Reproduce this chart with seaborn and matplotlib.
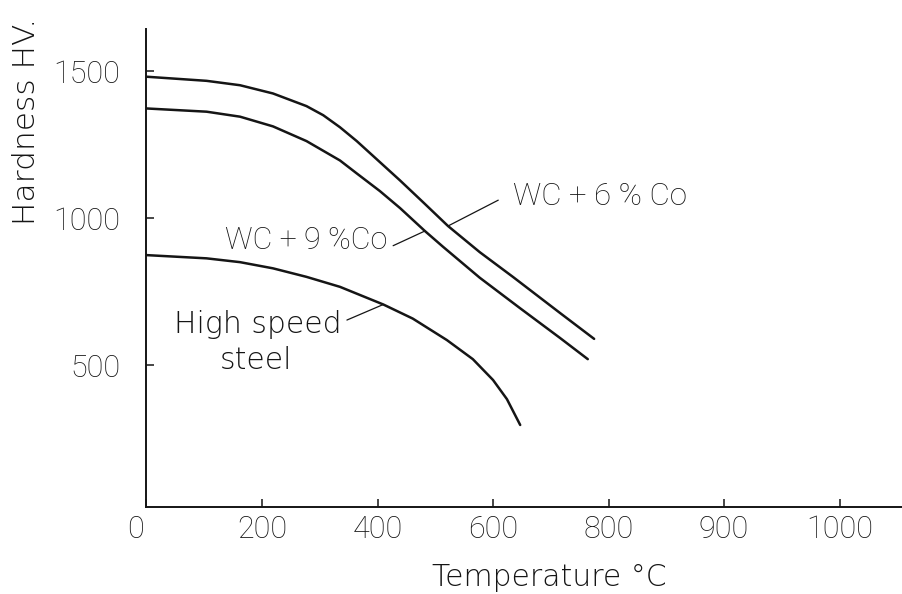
import matplotlib
matplotlib.use("Agg")
import matplotlib.pyplot as plt
from matplotlib.transforms import ScaledTranslation
import pandas as pd
import seaborn as sns

# Hardness (HV) against temperature (deg C)
temp_wc6 = [0, 104, 162, 219, 277, 306, 335, 364, 392, 439, 481, 522, 577, 635, 716, 775]
hv_wc6 = [1481, 1467, 1452, 1424, 1381, 1350, 1309, 1262, 1212, 1128, 1050, 973, 884, 799, 677, 589]

temp_wc9 = [0, 104, 162, 219, 277, 335, 364, 404, 439, 482, 513, 577, 647, 716, 764]
hv_wc9 = [1373, 1362, 1345, 1312, 1262, 1196, 1152, 1092, 1034, 956, 903, 797, 693, 592, 520]

temp_hss = [0, 104, 162, 219, 277, 335, 410, 461, 520, 565, 600, 624, 647]
hv_hss = [874, 863, 850, 829, 800, 766, 706, 658, 585, 520, 449, 384, 296]

series_names = ["WC + 6 % Co", "WC + 9 %Co", "High speed\nsteel"]

x_ticks = [0, 200, 400, 600, 800, 1000, 1200]
x_tick_labels = ["0", "200", "400", "600", "800", "900", "1000"]
y_ticks = [500, 1000, 1500]
y_tick_labels = ["500", "1000", "1500"]

sns.set_style("ticks")
plt.rcParams["font.family"] = ["Roboto", "DejaVu Sans"]
INK = "#151515"

df = pd.concat([
    pd.DataFrame({"temp": temp_wc6, "hv": hv_wc6, "alloy": series_names[0]}),
    pd.DataFrame({"temp": temp_wc9, "hv": hv_wc9, "alloy": series_names[1]}),
    pd.DataFrame({"temp": temp_hss, "hv": hv_hss, "alloy": series_names[2]}),
])

fig = plt.figure(figsize=(9.02, 5.94), dpi=100)
ax = fig.add_axes([0.1624, 0.147, 0.8376, 0.804])

sns.lineplot(data=df, x="temp", y="hv", hue="alloy",
             palette={n: INK for n in series_names}, sort=False,
             estimator=None, legend=False, linewidth=1.8, ax=ax)
for line in ax.lines:
    line.set_solid_joinstyle("round")
    line.set_solid_capstyle("round")

ax.set_xlim(0, 1308)
ax.set_ylim(18, 1643)
for side in ("top", "right"):
    ax.spines[side].set_visible(False)
for side in ("left", "bottom"):
    ax.spines[side].set_linewidth(1.4)
    ax.spines[side].set_color(INK)

ax.set_xticks(x_ticks)
ax.set_xticklabels(x_tick_labels)
ax.set_yticks(y_ticks)
ax.set_yticklabels(y_tick_labels)
ax.tick_params(axis="both", direction="in", length=6, width=1.1,
               colors=INK, labelsize=22)
ax.tick_params(axis="x", pad=6)
ax.tick_params(axis="y", pad=19)
for lab in ax.get_xticklabels() + ax.get_yticklabels():
    lab.set_fontweight("light")
# the origin label sits left of the corner
first = ax.get_xticklabels()[0]
first.set_transform(first.get_transform() + ScaledTranslation(-0.11, 0, fig.dpi_scale_trans))
ax.set_xlabel("")
ax.set_ylabel("")

fig.text(27 / 902, 1 - 121 / 594, "Hardness HV.", rotation=90, ha="center",
         va="center", fontsize=22.5, color=INK, family=["DejaVu Sans"],
         fontweight="light")
fig.text(549 / 902, 1 - 577 / 594, "Temperature °C", ha="center", va="center",
         fontsize=21.5, color=INK, family=["DejaVu Sans"], fontweight="light")

# curve labels with leader lines
lead = dict(arrowstyle="-", color=INK, lw=0.9, shrinkA=0, shrinkB=0)
ax.text(634, 1072, series_names[0], ha="left", va="center", fontsize=22.5,
        color=INK, fontweight="light")
ax.annotate("", xy=(temp_wc6[11], hv_wc6[11]), xytext=(609, 1061), arrowprops=lead)

ax.text(277, 925, series_names[1], ha="center", va="center", fontsize=22,
        color=INK, fontweight="light")
ax.annotate("", xy=(temp_wc9[9], hv_wc9[9]), xytext=(427, 906), arrowprops=lead)

hss_lines = series_names[2].split("\n")
ax.text(192, 609, hss_lines[0], ha="center", va="baseline", fontsize=21.5,
        color=INK, family=["DejaVu Sans"], fontweight="light")
ax.text(190, 487, hss_lines[1], ha="center", va="baseline", fontsize=21.5,
        color=INK, family=["DejaVu Sans"], fontweight="light")
ax.annotate("", xy=(temp_hss[6], hv_hss[6]), xytext=(347, 653), arrowprops=lead)

fig.savefig("out.png", dpi=100, facecolor="white")
